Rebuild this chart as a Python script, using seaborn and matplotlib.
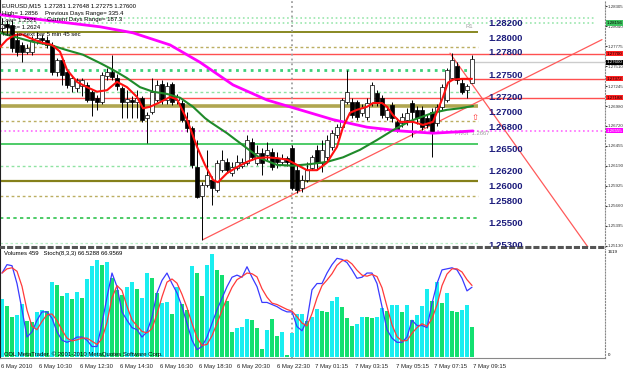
import numpy as np
import pandas as pd
import seaborn as sns
import matplotlib
matplotlib.use("Agg")
import matplotlib.pyplot as plt
from matplotlib import font_manager

# ---- data ----
candle_open = [1.2801, 1.2807, 1.2805, 1.2786, 1.2779, 1.2770, 1.2770, 1.2786, 1.2788, 1.2786,
               1.2779, 1.2743, 1.2759, 1.2743, 1.2725, 1.2722, 1.2725, 1.2726, 1.2717, 1.2709,
               1.2703, 1.2738, 1.2743, 1.2735, 1.2722, 1.2703, 1.2706, 1.2703, 1.2709, 1.2682,
               1.2690, 1.2706, 1.2727, 1.2706, 1.2727, 1.2706, 1.2702, 1.2680, 1.2669, 1.2617,
               1.2579, 1.2593, 1.2600, 1.2587, 1.2613, 1.2624, 1.2609, 1.2616, 1.2619, 1.2623,
               1.2650, 1.2623, 1.2636, 1.2633, 1.2637, 1.2629, 1.2624, 1.2629, 1.2642, 1.2613,
               1.2589, 1.2600, 1.2616, 1.2640, 1.2623, 1.2630, 1.2644, 1.2660, 1.2670, 1.2703,
               1.2703, 1.2703, 1.2689, 1.2683, 1.2702, 1.2715, 1.2709, 1.2683, 1.2699, 1.2677,
               1.2676, 1.2680, 1.2702, 1.2693, 1.2693, 1.2682, 1.2690, 1.2676, 1.2697, 1.2706,
               1.2735, 1.2751, 1.2728, 1.2719, 1.2728]
candle_high = [1.2815, 1.2812, 1.2812, 1.2792, 1.2783, 1.2780, 1.2791, 1.2796, 1.2792, 1.2791,
               1.2783, 1.2762, 1.2762, 1.2746, 1.2738, 1.2735, 1.2735, 1.2730, 1.2719, 1.2713,
               1.2743, 1.2748, 1.2766, 1.2740, 1.2725, 1.2719, 1.2711, 1.2719, 1.2711, 1.2690,
               1.2735, 1.2733, 1.2733, 1.2730, 1.2730, 1.2714, 1.2706, 1.2690, 1.2672, 1.2653,
               1.2597, 1.2640, 1.2605, 1.2627, 1.2640, 1.2629, 1.2624, 1.2633, 1.2629, 1.2660,
               1.2656, 1.2646, 1.2642, 1.2650, 1.2642, 1.2637, 1.2634, 1.2632, 1.2646, 1.2620,
               1.2607, 1.2624, 1.2633, 1.2646, 1.2653, 1.2660, 1.2666, 1.2674, 1.2709, 1.2746,
               1.2709, 1.2706, 1.2701, 1.2709, 1.2730, 1.2719, 1.2713, 1.2698, 1.2703, 1.2682,
               1.2689, 1.2695, 1.2706, 1.2698, 1.2698, 1.2687, 1.2695, 1.2701, 1.2727, 1.2748,
               1.2768, 1.2756, 1.2735, 1.2727, 1.2765]
candle_low = [1.2796, 1.2793, 1.2770, 1.2764, 1.2756, 1.2767, 1.2766, 1.2780, 1.2780, 1.2775,
              1.2739, 1.2738, 1.2726, 1.2722, 1.2717, 1.2717, 1.2711, 1.2703, 1.2685, 1.2693,
              1.2701, 1.2733, 1.2733, 1.2719, 1.2682, 1.2682, 1.2682, 1.2682, 1.2677, 1.2649,
              1.2687, 1.2703, 1.2701, 1.2701, 1.2699, 1.2701, 1.2677, 1.2664, 1.2616, 1.2576,
              1.2521, 1.2591, 1.2567, 1.2584, 1.2611, 1.2611, 1.2605, 1.2613, 1.2616, 1.2620,
              1.2627, 1.2620, 1.2607, 1.2627, 1.2613, 1.2616, 1.2620, 1.2619, 1.2587, 1.2583,
              1.2584, 1.2597, 1.2613, 1.2613, 1.2611, 1.2627, 1.2640, 1.2656, 1.2666, 1.2701,
              1.2682, 1.2680, 1.2685, 1.2680, 1.2698, 1.2698, 1.2682, 1.2680, 1.2677, 1.2664,
              1.2670, 1.2673, 1.2657, 1.2674, 1.2666, 1.2669, 1.2630, 1.2672, 1.2693, 1.2703,
              1.2733, 1.2727, 1.2714, 1.2709, 1.2728]
candle_close = [1.2807, 1.2803, 1.2775, 1.2770, 1.2770, 1.2775, 1.2786, 1.2788, 1.2786, 1.2779,
                1.2743, 1.2759, 1.2739, 1.2726, 1.2735, 1.2733, 1.2733, 1.2706, 1.2706, 1.2703,
                1.2739, 1.2743, 1.2736, 1.2725, 1.2703, 1.2707, 1.2703, 1.2709, 1.2680, 1.2686,
                1.2717, 1.2726, 1.2706, 1.2725, 1.2703, 1.2710, 1.2680, 1.2669, 1.2620, 1.2577,
                1.2593, 1.2607, 1.2589, 1.2623, 1.2627, 1.2613, 1.2617, 1.2624, 1.2624, 1.2653,
                1.2630, 1.2636, 1.2623, 1.2640, 1.2617, 1.2624, 1.2629, 1.2624, 1.2589, 1.2587,
                1.2600, 1.2613, 1.2630, 1.2623, 1.2640, 1.2653, 1.2662, 1.2670, 1.2706, 1.2717,
                1.2686, 1.2683, 1.2695, 1.2702, 1.2726, 1.2702, 1.2686, 1.2693, 1.2682, 1.2666,
                1.2683, 1.2689, 1.2690, 1.2682, 1.2670, 1.2673, 1.2662, 1.2697, 1.2723, 1.2746,
                1.2759, 1.2733, 1.2717, 1.2725, 1.2760]

# moving averages (bar position, price)
red_ma_x = [-0.4, 1, 2.5, 4, 5.6, 8, 10, 11.6, 13, 15, 17, 19, 21, 23, 25, 27, 28.2, 29.6, 31.6,
            33.6, 35, 37, 39, 40.6, 42.2, 43.2, 45, 47, 49, 51, 53, 55, 57, 59, 61, 63, 65, 67,
            68.2, 69.6, 71, 73, 74.2, 76, 77, 78.2, 79.6, 82.2, 84.2, 86.2, 88.2, 89.2, 90.2, 92, 94]
red_ma_y = [1.2776, 1.2786, 1.2792, 1.2793, 1.2788, 1.2782, 1.2779, 1.2770, 1.2746, 1.2730,
            1.2723, 1.2717, 1.2719, 1.2730, 1.2723, 1.2710, 1.2695, 1.2697, 1.2703, 1.2710,
            1.2707, 1.2680, 1.2644, 1.2620, 1.2600, 1.2597, 1.2609, 1.2617, 1.2624, 1.2629,
            1.2630, 1.2629, 1.2627, 1.2620, 1.2613, 1.2613, 1.2623, 1.2644, 1.2670, 1.2689,
            1.2693, 1.2697, 1.2702, 1.2702, 1.2697, 1.2686, 1.2677, 1.2677, 1.2673, 1.2677,
            1.2710, 1.2729, 1.2733, 1.2734, 1.2734]
green_ma_x = [-0.4, 6.2, 9.6, 13, 16.2, 19.6, 22.2, 25, 27.6, 30.2, 33, 35.6, 38.2, 40.6, 41.6,
              45, 48.2, 51.6, 55, 58.2, 61.6, 65, 68.2, 71.6, 75, 78.2, 81.6, 86.2, 89, 91.6, 94.2]
green_ma_y = [1.2795, 1.2783, 1.2779, 1.2772, 1.2766, 1.2755, 1.2746, 1.2735, 1.2723, 1.2717,
              1.2714, 1.2709, 1.2697, 1.2682, 1.2677, 1.2662, 1.2646, 1.2629, 1.2620, 1.2619,
              1.2621, 1.2624, 1.2630, 1.2640, 1.2653, 1.2666, 1.2678, 1.2689, 1.2693, 1.2695,
              1.2698]
magenta_ma_x = [-0.4, 9.6, 19.6, 26.2, 33.6, 39.6, 46.2, 53, 59.6, 66.2, 73, 79.6, 86.2, 91.6, 94.2]
magenta_ma_y = [1.2819, 1.2811, 1.2803, 1.2795, 1.2779, 1.2756, 1.2726, 1.2706, 1.2693, 1.2680,
                1.2670, 1.2665, 1.2662, 1.2664, 1.2665]

volumes = [878, 772, 605, 635, 802, 545, 530, 681, 711, 696,
           1135, 1089, 923, 968, 878, 983, 893, 1180, 1377, 1468,
           1392, 1437, 1195, 1014, 938, 1059, 1135, 1029, 893, 1271,
           1195, 968, 817, 832, 651, 1059, 802, 711, 1377, 1271,
           923, 1392, 1558, 1316, 1241, 847, 378, 439, 454, 575,
           560, 439, 121, 409, 575, 318, 378, 30, 363, 651,
           651, 545, 605, 726, 696, 681, 847, 908, 757, 590,
           469, 499, 605, 605, 590, 605, 741, 696, 787, 787,
           681, 787, 560, 635, 772, 1029, 847, 1135, 817, 968,
           696, 681, 711, 787, 459]
volume_colour_code = ("CGGCCGGCCG" "CGGCGCGCCC" "GCGGGCCGCC" "GGCCGCGGCG" "GCCGGGGCCC"
                      "GGGCGGCGCC" "CGCCGGCCGG" "GCCGGCCGCC" "GCGCCCGCGC" "GGCCG")
stoch_main = [80, 88, 87, 70, 45, 19, 24, 35, 43, 43,
              37, 24, 16, 14, 16, 19, 19, 16, 10, 10,
              32, 57, 80, 67, 43, 35, 28, 26, 19, 24,
              38, 61, 73, 80, 70, 61, 48, 32, 16, 7,
              10, 19, 32, 45, 56, 67, 76, 78, 76, 86,
              76, 67, 52, 52, 50, 48, 45, 43, 43, 29,
              25, 35, 64, 70, 70, 80, 88, 94, 93, 90,
              83, 75, 76, 80, 80, 70, 48, 26, 18, 14,
              14, 19, 35, 30, 30, 28, 51, 70, 83, 84,
              85, 83, 75, 63, 66.5]

levels = [1.2815, 1.2808, 1.2796, 1.2776, 1.2767, 1.2756, 1.2746, 1.2734, 1.2717, 1.2709,
          1.2698, 1.2678, 1.2665, 1.2648, 1.2619, 1.2599, 1.2579, 1.2550, 1.2517]
level_text = ["1.28200", "1.28000", "1.27800", "1.27500", "1.27200", "1.27000", "1.26800",
              "1.26500", "1.26200", "1.26000", "1.25800", "1.25500", "1.25300"]
level_text_price = [1.2808, 1.2787, 1.2769, 1.2738, 1.2709, 1.2689, 1.2670,
                    1.2640, 1.2611, 1.2591, 1.2571, 1.2542, 1.2513]
price_ticks = [1.28305, 1.28040, 1.27775, 1.27510, 1.27245, 1.26980, 1.26720,
               1.26455, 1.26190, 1.25925, 1.25660, 1.25395, 1.25130]
time_labels = ["6 May 2010", "6 May 10:30", "6 May 12:30", "6 May 14:30", "6 May 16:30",
               "6 May 18:30", "6 May 20:30", "6 May 22:30", "7 May 01:15", "7 May 03:15",
               "7 May 05:15", "7 May 07:15", "7 May 09:15"]
time_label_bar = [-0.2, 7.4, 15.6, 23.6, 31.6, 39.4, 47, 55, 62.6, 70.6, 78.8, 86.4, 94.2]
trend_up = ([40.2, 120.0], [1.2521, 1.2786])
trend_down = ([89.6, 117.2], [1.2768, 1.2511])

df = pd.DataFrame({"o": candle_open, "h": candle_high, "l": candle_low, "c": candle_close,
                   "vol": volumes, "stoch": stoch_main})
df["bar"] = np.arange(len(df))
df["signal"] = df["stoch"].rolling(3, min_periods=1).mean()

sns.set_style("white")
names = {f.name for f in font_manager.fontManager.ttflist}
small = "Liberation Sans Narrow" if "Liberation Sans Narrow" in names else "Liberation Sans"
plt.rcParams["font.family"] = ["Liberation Sans", "DejaVu Sans"]

W, H = 625, 370
fig = plt.figure(figsize=(6.25, 3.7), dpi=100)
ax = fig.add_axes([0, 1 - 247 / H, 605 / W, 247 / H])
axv = fig.add_axes([0, 12 / H, 605 / W, (358 - 249) / H])

xmin, xmax = -0.4, 120.6
ax.set_xlim(xmin, xmax)
ax.set_ylim(1.25112, 1.28385)

# horizontal levels: (colour, linestyle, width, end)
level_style = [("#9ae6ad", ":", 1.2, 118.6), ("#9ae6ad", ":", 1.2, 118.6),
               ("#7f7f10", "-", 1.3, 95.2), ("#bcae62", (0, (2, 2)), 1.0, 95.2),
               ("#ff5050", "-", 1.0, xmax), ("#cccccc", "-", 1.0, xmax),
               ("#3fd17a", ":", 2.0, 95.2), ("#ff5050", "-", 1.0, xmax),
               ("#8fe3a3", (0, (2, 2)), 1.0, 95.2), ("#ff5050", "-", 1.0, xmax),
               ("#b0a650", "-", 2.6, 95.2), ("#bcae62", (0, (2, 2)), 1.0, 95.2),
               ("#ff66ff", ":", 1.2, xmax), ("#2fc24e", "-", 1.2, 95.2),
               ("#8fe3a3", (0, (2, 2)), 1.0, 95.2), ("#85801a", "-", 1.6, 95.2),
               ("#bcae62", (0, (2, 2)), 1.0, 95.2), ("#2fc24e", (0, (2, 2)), 1.2, 95.2),
               ("#b8eec6", (0, (2, 2)), 0.9, 95.2)]
for p, (col, ls, lw, end) in zip(levels, level_style):
    ax.hlines(p, xmin, end, colors=col, linestyles=ls, linewidth=lw, zorder=1)

ax.axvline(58, color="#a0a0a0", ls=":", lw=1.3, zorder=1)
axv.axvline(58, color="#a0a0a0", ls=":", lw=1.3, zorder=1)

ax.plot(*trend_up, color="#ff5a5a", lw=0.9, zorder=2)
ax.plot(*trend_down, color="#ff5a5a", lw=0.9, zorder=2)

# candles
up = df["c"] >= df["o"]
ax.vlines(df["bar"], df["l"], df["h"], color="black", lw=0.7, zorder=3)
body = (df["c"] - df["o"]).abs().clip(lower=0.00004)
ax.bar(df["bar"], body, bottom=df[["o", "c"]].min(axis=1), width=0.62,
       color=np.where(up, "white", "black"), edgecolor="black", linewidth=0.5, zorder=4)

sns.lineplot(x=magenta_ma_x, y=magenta_ma_y, ax=ax, color="#ff00ff", lw=2.0, zorder=5, legend=False)
sns.lineplot(x=green_ma_x, y=green_ma_y, ax=ax, color="#1f8a2a", lw=1.5, zorder=5, legend=False)
sns.lineplot(x=red_ma_x, y=red_ma_y, ax=ax, color="#ff1010", lw=1.5, zorder=6, legend=False)

for t, p in zip(level_text, level_text_price):
    ax.text(97.2, p, t, color="#1c1c7c", fontsize=6.8, fontweight="bold", va="center",
            family=["Liberation Sans", "DejaVu Sans"], clip_on=True)

ax.text(94.2, 1.2803, "R1", color="#a0a0a0", fontsize=4.2, family=small, ha="right", va="center")
ax.text(90.6, 1.2662, "Pivot  1.2667", color="#a0a0a0", fontsize=4.2, family=small, va="center")
ax.text(94.6, 1.2683, "\u21e7", color="#ff3030", fontsize=6, ha="center", va="center",
        family=["DejaVu Sans"])

# right price axis
ax.yaxis.tick_right()
ax.set_yticks(price_ticks)
ax.set_yticklabels([f"{v:.5f}" for v in price_ticks], family=small, fontsize=3.2)
ax.tick_params(axis="y", length=1.5, pad=0.5, colors="#333333")
ax.set_xticks([])
ax.spines["top"].set_visible(False)
ax.spines["left"].set_color("#202020")
ax.spines["right"].set_color("#888888")
ax.spines["right"].set_linestyle(":")
ax.spines["bottom"].set_color("#555555")
ax.spines["bottom"].set_linestyle(":")
ax.spines["bottom"].set_linewidth(2.2)

boxes = [(1.2808, "1.28156", "#3dc35f", "black"), (1.2767, "1.27700", "#ff2020", "black"),
         (1.2756, "1.27600", "black", "white"), (1.2734, "1.27372", "#ff2020", "black"),
         (1.2709, "1.27188", "#ff2020", "black"), (1.2665, "1.26555", "#ff00ff", "white")]
for p, t, bg, fg in boxes:
    ax.text(120.95, p, t, color=fg, fontsize=3.2, family=small, va="center", ha="left",
            bbox=dict(boxstyle="square,pad=0.12", fc=bg, ec="none"), clip_on=False, zorder=10)

# volumes + stochastic
vol_colour = ["#19eef0" if k == "C" else "#12e070" for k in volume_colour_code]
axv.bar(df["bar"], df["vol"], width=0.62, color=vol_colour, linewidth=0, zorder=2)
axv.set_xlim(xmin, xmax)
axv.set_ylim(-15, 1634)
axv.set_yticks([])
axs = axv.twinx()
axs.set_ylim(-0.95, 102.9)
sns.lineplot(data=df, x="bar", y="stoch", ax=axs, color="#3a3aff", lw=0.9, legend=False)
sns.lineplot(data=df, x="bar", y="signal", ax=axs, color="#ff3a3a", lw=0.9, legend=False)
axs.set_axis_off()
axs.set_xlim(xmin, xmax)

axv.set_xticks(time_label_bar)
axv.set_xticklabels(time_labels, ha="left", family=small, fontsize=4.3)
axv.tick_params(axis="x", length=3, pad=1, colors="#222222")
axv.spines["top"].set_visible(False)
axv.spines["left"].set_color("#202020")
axv.spines["right"].set_color("#888888")
axv.spines["right"].set_linestyle(":")
axv.spines["bottom"].set_color("#888888")
axv.set_xlabel("")
axv.set_ylabel("")
ax.set_xlabel("")
ax.set_ylabel("")


def ftext(x, y, s, size=4.3):
    fig.text(x / W, 1 - y / H, s, va="center", ha="left", fontsize=size, family=small,
             color="black")


ftext(2, 6, "EURUSD,M15  1.27281 1.27648 1.27275 1.27600")
ftext(2, 13, "High= 1.2856")
ftext(45, 13, "Previous Days Range= 335.4")
ftext(2, 20, "Low= 1.2521")
ftext(47, 20, "Current Days Range= 187.3")
ftext(2, 27, "Open= 1.2624")
ftext(2, 34, "Time to next bar 5 min 45 sec")
ftext(4, 254, "Volumes 459   Stoch(8,3,3) 66.5288 66.9569")
ftext(4, 354, "ODL MetaTrader, \u00a9 2001-2010 MetaQuotes Software Corp.")
ftext(608, 252, "1619", 3.2)
ftext(608, 355, "0", 3.2)

fig.savefig("out.png", dpi=100)
